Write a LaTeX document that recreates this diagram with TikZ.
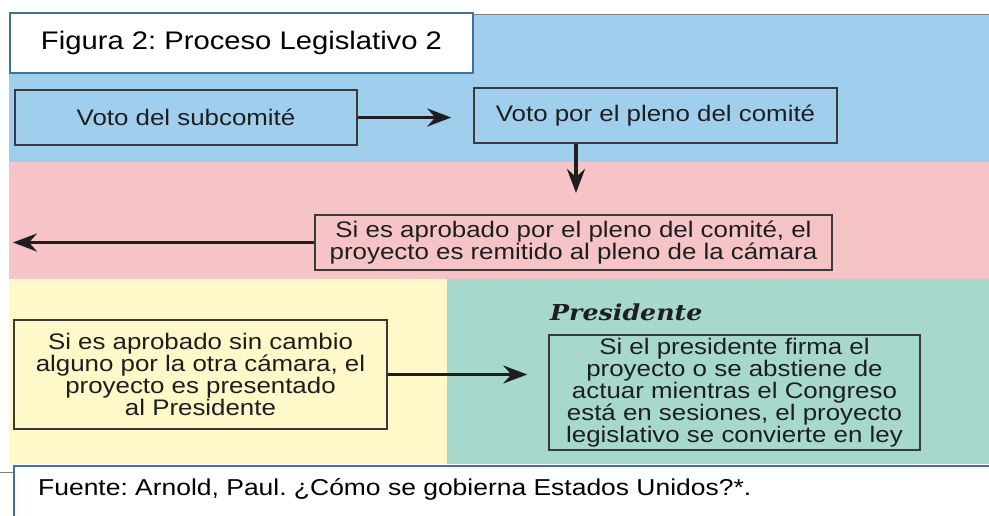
\documentclass[tikz,border=0pt]{standalone}
\usepackage{fontspec}
\setmainfont{Liberation Sans}[FakeStretch=1.15]
\newfontfamily\presfont{DejaVu Serif}[FakeStretch=1.15]
\usepackage{tikz}
\usetikzlibrary{arrows.meta, positioning}
\usepackage{xcolor}
\definecolor{bandblue}{RGB}{160, 207, 238}
\definecolor{bandpink}{RGB}{246, 196, 199}
\definecolor{bandyellow}{RGB}{255, 248, 200}
\definecolor{bandteal}{RGB}{166, 217, 203}
\definecolor{frameblue}{RGB}{65, 113, 156}
\definecolor{boxgray}{RGB}{58, 58, 58}
\definecolor{inkdark}{RGB}{30, 30, 32}
\frenchspacing

\begin{document}
\begin{tikzpicture}[x=1pt, y=-1pt,
    caja/.style={draw=boxgray, line width=1.5pt, align=center, inner sep=0pt,
        text=inkdark, font=\fontsize{22.5}{20.7}\selectfont},
    flecha/.style={-{Stealth[length=24pt, width=18pt, inset=8pt]},
        line width=3.5pt, inkdark}]
    \fill[white] (0,0) rectangle (989,516);
    \useasboundingbox (0,0) rectangle (989,516);
    \fill[bandblue] (9,15) rectangle (989,162);
    \fill[bandpink] (9,162) rectangle (989,279);
    \fill[bandyellow] (9,279) rectangle (447,464);
    \fill[bandteal] (447,279) rectangle (989,464);
    \draw[gray, line width=1pt] (470,14.5) -- (989,14.5);
    \draw[gray, line width=1pt] (0,472) -- (14,472);
    \node[draw=frameblue, line width=2pt, fill=white, inner sep=0pt,
        minimum width=463pt, minimum height=60pt,
        font=\fontsize{25.4}{30}\selectfont] (titulo) at (241.5,43) {Figura 2: Proceso Legislativo 2};
    \node[caja, minimum width=342pt, minimum height=55pt] (subcomite) at (186,117.5) {Voto del subcomité};
    \node[caja, minimum width=363pt, minimum height=55pt] (pleno) at (655.5,115.5) {Voto por el pleno del comité};
    \node[caja, minimum width=517pt, minimum height=55pt] (remitido) at (573.5,242.5)
        {Si es aprobado por el pleno del comité, el\\proyecto es remitido al pleno de la cámara};
    \node[caja, minimum width=373pt, minimum height=109pt] (otra) at (200.5,374.5)
        {Si es aprobado sin cambio\\alguno por la otra cámara, el\\proyecto es presentado\\al Presidente};
    \node[caja, minimum width=371pt, minimum height=115pt] (firma) at (734.5,392.5)
        {Si el presidente firma el\\proyecto o se abstiene de\\actuar mientras el Congreso\\está en sesiones, el proyecto\\legislativo se convierte en ley};
    \node[anchor=base west, inner sep=0pt, text=inkdark,
        font=\presfont\bfseries\itshape\fontsize{22}{26}\selectfont] (presidente) at (550,320) {Presidente};
    \coordinate (bajada) at (576,193);
    \coordinate (salida) at (13,242.5);
    \draw[flecha, shorten >=22pt] (subcomite.east) -- (subcomite.east -| pleno.west);
    \draw[flecha] (bajada |- pleno.south) -- (bajada);
    \draw[flecha] (remitido.west) -- (salida);
    \draw[flecha, shorten >=21pt] (otra.east) -- (otra.east -| firma.west);
    \draw[frameblue, line width=2pt, fill=white] (14,466) rectangle (1000,530);
    \node[anchor=west, inner sep=0pt, font=\fontsize{23}{28}\selectfont] (fuente) at (38,489)
        {Fuente: Arnold, Paul. ¿Cómo se gobierna Estados Unidos?*.};
\end{tikzpicture}
\end{document}
